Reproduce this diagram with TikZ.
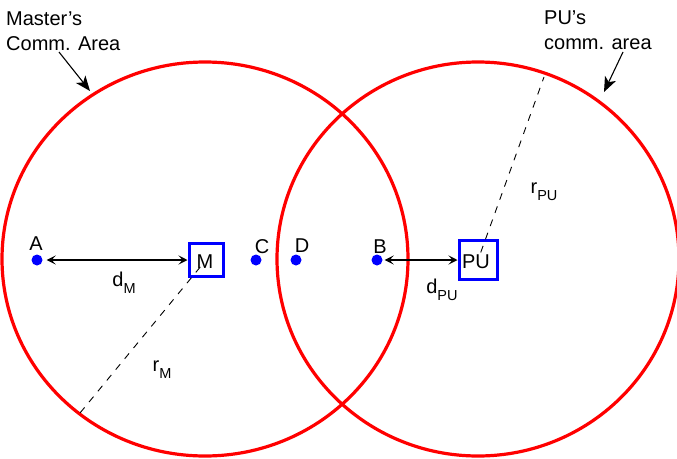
\documentclass[tikz,border=0pt]{standalone}
\usepackage{fontspec}
\setmainfont{Liberation Sans}
\usetikzlibrary{arrows.meta}
\newcommand{\lowsub}[1]{\raisebox{-7pt}{\fontsize{14.5}{14.5}\selectfont #1}}
\begin{document}
\begin{tikzpicture}[x=1pt,y=-1pt,
  every node/.style={font=\fontsize{20}{25}\selectfont, inner sep=0pt},
  area/.style={draw=red, line width=3.2pt},
  dot/.style={circle, fill=blue, minimum size=11pt, inner sep=0pt},
  boxnode/.style={draw=blue, line width=3pt, inner sep=0pt},
  radius line/.style={dash pattern=on 7pt off 7pt, line width=0.9pt},
  dist/.style={line width=1.3pt, {Stealth[length=9pt,width=9pt,inset=4pt]}-{Stealth[length=9pt,width=9pt,inset=4pt]}},
  note/.style={line width=1.1pt, -{Stealth[length=15pt,width=12pt,inset=4pt]}}]
\useasboundingbox (0,0) rectangle (677,458);
% communication areas
\draw[area] (205,259) ellipse [x radius=203pt, y radius=197pt];
\draw[area] (478,259) ellipse [x radius=201pt, y radius=197pt];
% boxes
\node[boxnode, minimum width=34pt, minimum height=33pt] (M) at (206,260) {};
\node at (205,262) {M};
\node[boxnode, minimum width=38pt, minimum height=39pt] (PU) at (478,260) {};
\node at (476,262) {PU};
% points
\node[dot] (A) at (37,260) {};
\node[dot] (C) at (256,260) {};
\node[dot] (D) at (296,260) {};
\node[dot] (B) at (377,260) {};
\node (lA) at (36,244) {A};
\node (lC) at (262,247) {C};
\node (lD) at (302,246) {D};
\node (lB) at (380,247) {B};
% distances
\draw[dist, shorten <=4pt] (A) -- (M);
\node (dM) at (124,283) {d\lowsub{M}};
\draw[dist, shorten <=2pt] (B) -- (PU);
\node (dPU) at (442,290) {d\lowsub{PU}};
% radii
\coordinate (rMend) at (80,413);
\coordinate (rPUend) at (544,77);
\draw[radius line, shorten <=9pt] (M.center) -- (rMend);
\draw[radius line, shorten <=8pt] (PU.center) -- (rPUend);
\node (rM) at (162,370) {r\lowsub{M}};
\node (rPU) at (544,192) {r\lowsub{PU}};
% annotations
\node[anchor=west, align=left] (mnote) at (6,31) {Master’s\\Comm. Area};
\node[anchor=west, align=left] (pnote) at (544,30) {PU’s\\comm. area};
\coordinate (mtip) at (90,91);
\coordinate (ptip) at (604,92);
\draw[note] (59,52) -- (mtip);
\draw[note] (623,52) -- (ptip);
\end{tikzpicture}
\end{document}
